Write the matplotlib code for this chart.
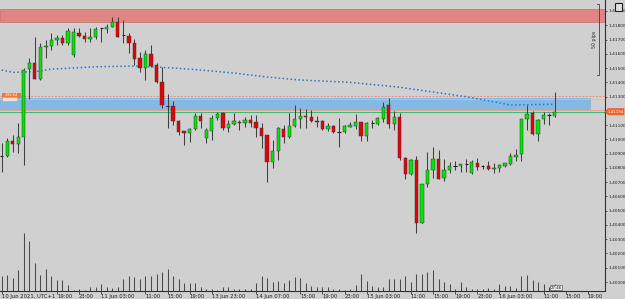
import matplotlib
matplotlib.use('Agg')
import matplotlib.pyplot as plt
from matplotlib.patches import Rectangle, Polygon

# ---------------- data ----------------
opens = [1.40884, 1.40884, 1.40989, 1.40968, 1.41019, 1.41493, 1.41537, 1.41425, 1.41645, 1.41657,
         1.41697, 1.41708, 1.41678, 1.41591, 1.41748, 1.41727, 1.41702, 1.41716, 1.41779, 1.41774,
         1.41786, 1.41825, 1.41732, 1.41727, 1.41678, 1.41568, 1.41502, 1.41596, 1.41521, 1.41404,
         1.41237, 1.41234, 1.41131, 1.41059, 1.41043, 1.41073, 1.41164, 1.41007, 1.41059, 1.41148,
         1.41183, 1.41082, 1.41106, 1.41124, 1.41113, 1.41136, 1.41124, 1.41082, 1.41031, 1.40839,
         1.40918, 1.41073, 1.41019, 1.41094, 1.41143, 1.41166, 1.41155, 1.41131, 1.41129, 1.41071,
         1.41094, 1.41050, 1.41050, 1.41089, 1.41096, 1.41120, 1.41024, 1.41113, 1.41108, 1.41141,
         1.41241, 1.41106, 1.41159, 1.40872, 1.40755, 1.40855, 1.40416, 1.40685, 1.40785, 1.40860,
         1.40731, 1.40785, 1.40815, 1.40813, 1.40827, 1.40762, 1.40832, 1.40813, 1.40813, 1.40790,
         1.40797, 1.40815, 1.40827, 1.40878, 1.40895, 1.41143, 1.41183, 1.41038, 1.41141, 1.41171,
         1.41166]
highs = [1.40975, 1.41010, 1.41031, 1.41115, 1.41500, 1.41570, 1.41720, 1.41678, 1.41697, 1.41746,
         1.41732, 1.41732, 1.41783, 1.41779, 1.41779, 1.41755, 1.41783, 1.41790, 1.41783, 1.41809,
         1.41856, 1.41860, 1.41837, 1.41744, 1.41702, 1.41615, 1.41627, 1.41662, 1.41533, 1.41509,
         1.41318, 1.41271, 1.41136, 1.41059, 1.41078, 1.41185, 1.41185, 1.41078, 1.41171, 1.41194,
         1.41194, 1.41136, 1.41183, 1.41136, 1.41155, 1.41171, 1.41171, 1.41117, 1.41031, 1.40996,
         1.41089, 1.41101, 1.41183, 1.41241, 1.41218, 1.41213, 1.41206, 1.41164, 1.41136, 1.41115,
         1.41101, 1.41148, 1.41101, 1.41124, 1.41176, 1.41124, 1.41124, 1.41136, 1.41159, 1.41260,
         1.41292, 1.41199, 1.41183, 1.40879, 1.40860, 1.40883, 1.40687, 1.40914, 1.40949, 1.40926,
         1.40860, 1.40843, 1.40848, 1.40827, 1.40860, 1.40855, 1.40867, 1.40820, 1.40850, 1.40832,
         1.40827, 1.40836, 1.40902, 1.40930, 1.41143, 1.41241, 1.41201, 1.41141, 1.41194, 1.41187,
         1.41334]
lows = [1.40771, 1.40877, 1.40912, 1.40905, 1.40820, 1.41283, 1.41423, 1.41416, 1.41570, 1.41627,
        1.41662, 1.41662, 1.41662, 1.41575, 1.41716, 1.41685, 1.41685, 1.41702, 1.41685, 1.41748,
        1.41786, 1.41720, 1.41673, 1.41603, 1.41521, 1.41474, 1.41416, 1.41509, 1.41393, 1.41218,
        1.41080, 1.41101, 1.41031, 1.40961, 1.40984, 1.41066, 1.41078, 1.40975, 1.40996, 1.41136,
        1.41066, 1.41054, 1.41101, 1.41066, 1.41089, 1.41089, 1.41019, 1.40937, 1.40703, 1.40797,
        1.40855, 1.40977, 1.41007, 1.41085, 1.41078, 1.41078, 1.41124, 1.41089, 1.41066, 1.41059,
        1.41043, 1.40949, 1.41043, 1.41085, 1.41071, 1.40991, 1.40991, 1.41078, 1.41101, 1.41124,
        1.41078, 1.41066, 1.40855, 1.40720, 1.40750, 1.40346, 1.40414, 1.40668, 1.40727, 1.40720,
        1.40710, 1.40766, 1.40785, 1.40773, 1.40773, 1.40757, 1.40785, 1.40790, 1.40785, 1.40766,
        1.40773, 1.40808, 1.40820, 1.40850, 1.40850, 1.41066, 1.41031, 1.40991, 1.41106, 1.41101,
        1.41159]
closes = [1.40887, 1.40989, 1.40971, 1.41019, 1.41486, 1.41535, 1.41425, 1.41650, 1.41657, 1.41697,
          1.41713, 1.41673, 1.41762, 1.41751, 1.41727, 1.41702, 1.41716, 1.41774, 1.41777, 1.41790,
          1.41825, 1.41720, 1.41730, 1.41678, 1.41561, 1.41502, 1.41596, 1.41516, 1.41404, 1.41241,
          1.41236, 1.41131, 1.41054, 1.41043, 1.41073, 1.41164, 1.41131, 1.41066, 1.41148, 1.41176,
          1.41082, 1.41106, 1.41129, 1.41113, 1.41136, 1.41117, 1.41082, 1.41026, 1.40839, 1.40918,
          1.41078, 1.41017, 1.41094, 1.41143, 1.41164, 1.41155, 1.41131, 1.41124, 1.41071, 1.41092,
          1.41054, 1.41048, 1.41094, 1.41101, 1.41120, 1.41024, 1.41113, 1.41111, 1.41148, 1.41229,
          1.41108, 1.41159, 1.40872, 1.40755, 1.40855, 1.40416, 1.40685, 1.40785, 1.40860, 1.40722,
          1.40785, 1.40815, 1.40814, 1.40827, 1.40826, 1.40839, 1.40808, 1.40812, 1.40790, 1.40801,
          1.40820, 1.40832, 1.40883, 1.40890, 1.41143, 1.41178, 1.41038, 1.41136, 1.41171, 1.41169,
          1.41194]
volumes = [750, 780, 670, 1030, 2920, 2500, 1420, 780, 1080, 750,
           530, 550, 280, 50, 80, 50, 220, 200, 330, 200,
           170, 200, 580, 750, 700, 580, 750, 750, 830, 970,
           1080, 750, 580, 420, 380, 420, 220, 80, 120, 30,
           200, 200, 120, 120, 80, 80, 420, 750, 630, 450,
           500, 380, 550, 700, 670, 380, 250, 200, 200, 220,
           120, 80, 50, 80, 280, 830, 480, 250, 200, 220,
           580, 620, 620, 750, 450, 830, 830, 970, 1050, 580,
           450, 370, 120, 450, 220, 80, 80, 80, 170, 120,
           330, 250, 250, 170, 750, 780, 530, 450, 370, 200,
           330]
ma_bars = [0, 2, 6, 9, 12, 17, 24, 27, 32, 36, 42, 48, 54, 63, 72, 84, 92, 100]
ma_values = [1.41486, 1.41470, 1.41474, 1.41493, 1.41498, 1.41509, 1.41514, 1.41509, 1.41498,
             1.41486, 1.41465, 1.41437, 1.41416, 1.41400, 1.41365, 1.41299, 1.41241, 1.41246]
time_tick_bars = [0, 10, 14, 18, 26, 30, 34, 38, 46, 54, 58, 62, 66, 74, 78, 82, 86, 90, 98, 102, 106]
time_tick_labels = ["10 Jun 2021, UTC+1", "19:00", "23:00", "11 Jun 03:00", "11:00", "15:00", "19:00",
                    "13 Jun 23:00", "14 Jun 07:00", "15:00", "19:00", "23:00", "15 Jun 03:00",
                    "11:00", "15:00", "19:00", "23:00", "16 Jun 03:00", "11:00", "15:00", "19:00"]
# 1.4120 is hidden behind the current-price label in the reference
price_ticks = [1.4000, 1.4010, 1.4020, 1.4030, 1.4040, 1.4050, 1.4060, 1.4070, 1.4080, 1.4090,
               1.4100, 1.4110, 1.4130, 1.4140, 1.4150, 1.4160, 1.4170, 1.4180, 1.4190]
price_tick_labels = ["1.40000", "1.40100", "1.40200", "1.40300", "1.40400", "1.40500", "1.40600",
                     "1.40700", "1.40800", "1.40900", "1.41000", "1.41100", "1.41300",
                     "1.41400", "1.41500", "1.41600", "1.41700", "1.41800", "1.41900"]
supply_zone = (1.41825, 1.41914)
demand_zone = (1.41208, 1.41292)
orange_level = 1.41302
current_price = 1.41194
current_label = "1.41194"
pips_top, pips_bottom = 1.41949, 1.41451
pips_label = "50 pips"

# ---------------- style ----------------
BG = '#D0D0D0'
BULL = '#00E600'
BEAR = '#E60000'
EDGE = '#3A3A3A'
W, H = 625, 299

fig = plt.figure(figsize=(W / 100, H / 100), dpi=100)
fig.patch.set_facecolor(BG)
ax = fig.add_axes([0, 8 / H, 605 / W, 291 / H])
ax.set_facecolor(BG)
ax.set_xlim(-0.3, 109.1)
ax.set_ylim(1.39937, 1.41977)

for s in ['top', 'left']:
    ax.spines[s].set_visible(False)
for s in ['right', 'bottom']:
    ax.spines[s].set_color('#303030')
    ax.spines[s].set_linewidth(0.8)

# zones
x0, x1 = ax.get_xlim()
ax.add_patch(Rectangle((x0, supply_zone[0]), x1 - x0, supply_zone[1] - supply_zone[0],
                       facecolor='#E08484', edgecolor='#C87070', linewidth=0.5, zorder=1))
ax.add_patch(Rectangle((x0, demand_zone[0]), 106.6 - x0, demand_zone[1] - demand_zone[0],
                       facecolor='#86B8E6', edgecolor='none', zorder=1))
ax.axhline(orange_level, color='#F09070', lw=0.7, ls=(0, (2, 1.5)), zorder=2)
ax.axhline(demand_zone[1] - 0.00010, color='#F0B8A0', lw=0.6, zorder=2)
ax.axhline(demand_zone[0], color='#E8A080', lw=0.6, zorder=2)
ax.axhline(current_price, color='#40B878', lw=0.8, zorder=2)

# volumes (bottom overlay)
vol_scale = 291 * 50
xs = list(range(len(opens)))
ax.vlines(xs, 0, [v / vol_scale for v in volumes], transform=ax.get_xaxis_transform(),
          color='#4A4A4A', lw=0.75, zorder=2)

# MA line
ax.plot(ma_bars, ma_values, color='#2E78C8', lw=1.1, ls=(0, (1, 1.6)), zorder=3)

# candles
bw = 0.6
for i, (o, h, l, c) in enumerate(zip(opens, highs, lows, closes)):
    ax.vlines(i, l, h, color='#404040', lw=0.75, zorder=4)
    if abs(c - o) < 0.00004:
        ax.hlines(o, i - bw / 2, i + bw / 2, color='#202020', lw=0.8, zorder=5)
    else:
        col = BULL if c > o else BEAR
        ax.add_patch(Rectangle((i - bw / 2, min(o, c)), bw, abs(c - o), facecolor=col,
                               edgecolor=EDGE, linewidth=0.35, zorder=5))

# axes ticks
ax.yaxis.tick_right()
ax.set_yticks(price_ticks)
ax.set_yticklabels(price_tick_labels, fontsize=3.1, color='#202020')
ax.tick_params(axis='y', length=1.5, width=0.5, pad=0.8, colors='#202020')
ax.set_xticks(time_tick_bars)
ax.set_xticklabels(time_tick_labels, fontsize=3.8, color='#202020', ha='left')
ax.tick_params(axis='x', length=2, width=0.5, pad=0.5, colors='#202020')

# current price label on the right
ytr = ax.get_yaxis_transform()
lab = Polygon([(1.0, current_price), (1.005, current_price + 0.00025), (1.032, current_price + 0.00025),
               (1.032, current_price - 0.00025), (1.005, current_price - 0.00025)],
              closed=True, transform=ytr, facecolor='#F06428', edgecolor='none', clip_on=False, zorder=10)
ax.add_patch(lab)
ax.text(1.0045, current_price, current_label, transform=ytr, fontsize=2.8, color='white',
        va='center', ha='left', clip_on=False, zorder=11)

# 50 pips bracket
bx = 108.1
ax.plot([bx - 0.45, bx, bx, bx - 0.45], [pips_top, pips_top, pips_bottom, pips_bottom],
        color='#404040', lw=0.6, zorder=6)
ax.text(bx - 0.9, (pips_top + pips_bottom) / 2, pips_label, rotation=90, fontsize=3.4,
        color='#303030', ha='center', va='center', zorder=6)

# small object label on the left
ax.add_patch(Rectangle((0.05, 1.41294), 3.2, 0.00031, facecolor='#F07838', edgecolor='#D06020',
                       lw=0.4, zorder=7))
ax.text(1.65, 1.41310, "28k E4", fontsize=2.6, color='white', ha='center', va='center', zorder=8)
ax.add_patch(Rectangle((0.05, 1.41266), 2.7, 0.00028, facecolor='#E8E0D8', edgecolor='#F09060',
                       lw=0.4, zorder=7))

# countdown box at bottom
ax.text(100.3, 0.012, "27:46", transform=ax.get_xaxis_transform(), fontsize=2.8, color='#202020',
        ha='center', va='center', zorder=9,
        bbox=dict(boxstyle='square,pad=0.15', facecolor='#E8E8E8', edgecolor='#404040', lw=0.4))

# icon at top right
fig.patches.append(Rectangle((615 / W, 1 - 11 / H), 7 / W, 8 / H, transform=fig.transFigure,
                             facecolor='#E0E0E0', edgecolor='#202020', lw=0.8))

fig.savefig('out.png', dpi=100, facecolor=BG)
